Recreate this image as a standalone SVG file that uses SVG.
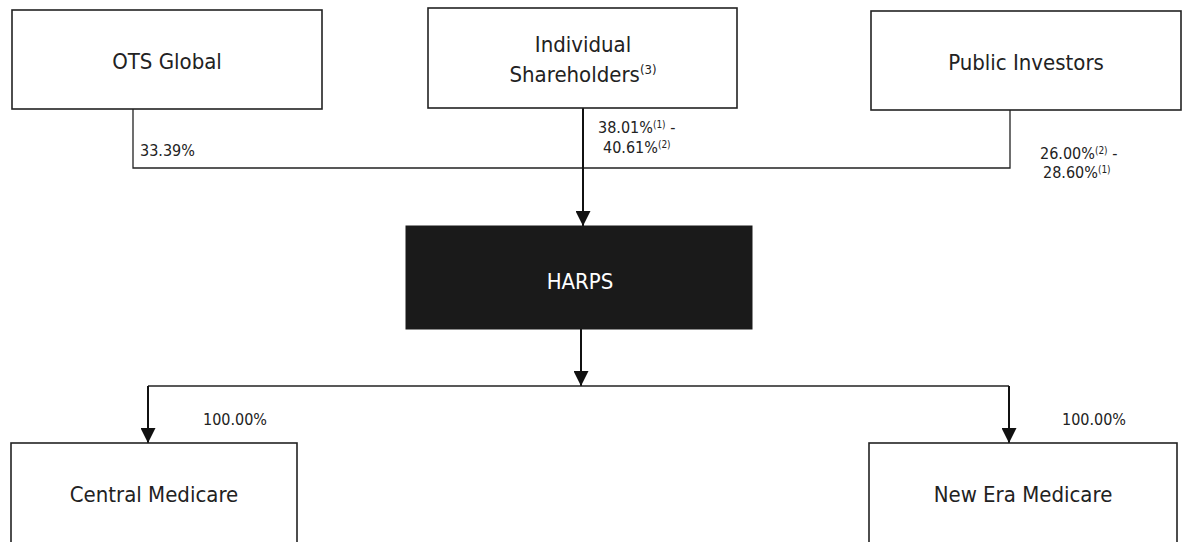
<svg xmlns="http://www.w3.org/2000/svg" width="1185" height="542" viewBox="0 0 1185 542">
<style>
.box{fill:#fff;stroke:#222;stroke-width:1.6}
.dark{fill:#1a1a1a;stroke:#1a1a1a;stroke-width:1}
.t{font-family:"DejaVu Sans Condensed","DejaVu Sans",sans-serif;font-size:22px;fill:#222;text-anchor:middle}
.w{fill:#fff}
.lbl{font-family:"DejaVu Sans Condensed","DejaVu Sans",sans-serif;font-size:16px;fill:#222}
.sup{font-size:10px}
.ln{fill:none;stroke:#222;stroke-width:1.3}
.ar{fill:none;stroke:#111;stroke-width:2}
</style>
<defs>
<marker id="ah" markerUnits="userSpaceOnUse" markerWidth="16" markerHeight="15" refX="15" refY="7.5" orient="auto">
<path d="M0,0 L15,7.5 L0,15 Z" fill="#111"/>
</marker>
</defs>
<g id="connectors">
<polyline class="ln" points="133,109 133,168 1010,168 1010,110"/>
<line class="ar" x1="583" y1="108" x2="583" y2="226" marker-end="url(#ah)"/>
<line class="ar" x1="581" y1="329" x2="581" y2="386" marker-end="url(#ah)"/>
<polyline class="ln" points="148,386 1009,386"/>
<line class="ar" x1="148" y1="386" x2="148" y2="443" marker-end="url(#ah)"/>
<line class="ar" x1="1009" y1="386" x2="1009" y2="443" marker-end="url(#ah)"/>
<text class="lbl" x="140" y="156">33.39%</text>
<text class="lbl" x="598" y="133">38.01%<tspan class="sup" dy="-5">(1)</tspan><tspan dy="5"> -</tspan></text>
<text class="lbl" x="603" y="153">40.61%<tspan class="sup" dy="-5">(2)</tspan></text>
<text class="lbl" x="1040" y="159">26.00%<tspan class="sup" dy="-5">(2)</tspan><tspan dy="5"> -</tspan></text>
<text class="lbl" x="1043" y="178">28.60%<tspan class="sup" dy="-5">(1)</tspan></text>
<text class="lbl" x="203" y="425">100.00%</text>
<text class="lbl" x="1062" y="425">100.00%</text>
</g>
<g id="ots">
<rect class="box" x="12" y="10" width="310" height="99"/>
<text class="t" x="167" y="69">OTS Global</text>
</g>
<g id="individual">
<rect class="box" x="428" y="8" width="309" height="100"/>
<text class="t" x="583" y="52">Individual</text>
<text class="t" x="583" y="82">Shareholders<tspan font-size="13px" dy="-8">(3)</tspan></text>
</g>
<g id="public">
<rect class="box" x="871" y="11" width="310" height="99"/>
<text class="t" x="1026" y="70">Public Investors</text>
</g>
<g id="harps">
<rect class="dark" x="406" y="226" width="346" height="103"/>
<text class="t w" x="580" y="289" font-size="24px">HARPS</text>
</g>
<g id="central">
<rect class="box" x="11" y="443" width="286" height="120"/>
<text class="t" x="154" y="502">Central Medicare</text>
</g>
<g id="newera">
<rect class="box" x="869" y="443" width="308" height="120"/>
<text class="t" x="1023" y="502">New Era Medicare</text>
</g>
</svg>
